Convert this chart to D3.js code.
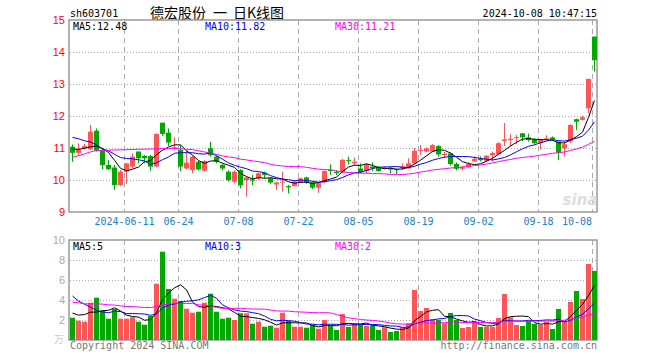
<!DOCTYPE html>
<html>
<head>
<meta charset="utf-8">
<script src="https://cdn.jsdelivr.net/npm/d3@7"></script>
<style>
  body { margin: 0; background: #fff; }
  text { font-family: "DejaVu Sans Mono", monospace; font-size: 10px; }
</style>
</head>
<body>
<svg width="660" height="360"></svg>
<script>
const dates = [
  "2024-05-28", "2024-05-29", "2024-05-30", "2024-05-31",
  "2024-06-03", "2024-06-04", "2024-06-05", "2024-06-06", "2024-06-07",
  "2024-06-11", "2024-06-12", "2024-06-13", "2024-06-14",
  "2024-06-17", "2024-06-18", "2024-06-19", "2024-06-20", "2024-06-21",
  "2024-06-24", "2024-06-25", "2024-06-26", "2024-06-27", "2024-06-28",
  "2024-07-01", "2024-07-02", "2024-07-03", "2024-07-04", "2024-07-05",
  "2024-07-08", "2024-07-09", "2024-07-10", "2024-07-11", "2024-07-12",
  "2024-07-15", "2024-07-16", "2024-07-17", "2024-07-18", "2024-07-19",
  "2024-07-22", "2024-07-23", "2024-07-24", "2024-07-25", "2024-07-26",
  "2024-07-29", "2024-07-30", "2024-07-31", "2024-08-01", "2024-08-02",
  "2024-08-05", "2024-08-06", "2024-08-07", "2024-08-08", "2024-08-09",
  "2024-08-12", "2024-08-13", "2024-08-14", "2024-08-15", "2024-08-16",
  "2024-08-19", "2024-08-20", "2024-08-21", "2024-08-22", "2024-08-23",
  "2024-08-26", "2024-08-27", "2024-08-28", "2024-08-29", "2024-08-30",
  "2024-09-02", "2024-09-03", "2024-09-04", "2024-09-05", "2024-09-06",
  "2024-09-09", "2024-09-10", "2024-09-11", "2024-09-12", "2024-09-13",
  "2024-09-18", "2024-09-19", "2024-09-20",
  "2024-09-23", "2024-09-24", "2024-09-25", "2024-09-26", "2024-09-27",
  "2024-09-30", "2024-10-08"
];

const open = [11.04, 10.85, 10.99, 10.96, 11.54, 10.92, 10.47, 10.39, 9.84, 10.26,
  10.42, 10.89, 10.75, 10.75, 10.42, 11.79, 11.48, 10.98, 10.94, 10.36,
  10.31, 10.57, 10.29, 10.99, 10.73, 10.47, 10.26, 9.95, 10.31, 10.0,
  10.02, 10.05, 10.23, 10.05, 9.86, 9.92, 9.81, 9.81, 9.92, 10.08,
  9.93, 9.76, 9.95, 10.31, 10.25, 10.24, 10.62, 10.52, 10.36, 10.28,
  10.42, 10.41, 10.36, 10.37, 10.34, 10.37, 10.36, 10.52, 10.93, 10.89,
  10.89, 11.06, 10.78, 10.83, 10.5, 10.35, 10.4, 10.58, 10.66, 10.6,
  10.77, 10.8, 11.22, 11.25, 11.31, 11.46, 11.33, 11.28, 11.15, 11.26,
  11.33, 11.2, 10.99, 11.2, 11.9, 11.88, 12.24, 14.48];

const close = [10.85, 10.96, 11.06, 11.51, 10.92, 10.47, 10.34, 9.84, 10.26, 10.52,
  10.73, 10.68, 10.68, 10.42, 11.44, 11.44, 11.17, 11.02, 10.42, 10.54,
  10.73, 10.33, 10.59, 10.78, 10.57, 10.36, 10.0, 10.26, 9.84, 10.08,
  9.98, 10.21, 10.16, 9.92, 9.92, 9.95, 9.77, 9.95, 10.05, 9.93,
  9.76, 9.9, 10.28, 10.28, 10.23, 10.63, 10.6, 10.57, 10.24, 10.49,
  10.37, 10.28, 10.39, 10.33, 10.31, 10.42, 10.52, 10.91, 10.94, 10.99,
  11.09, 10.8, 10.82, 10.5, 10.35, 10.4, 10.5, 10.66, 10.62, 10.76,
  10.84, 11.15, 11.27, 11.29, 11.34, 11.33, 11.25, 11.15, 11.25, 11.3,
  11.27, 10.85, 11.12, 11.72, 11.82, 11.96, 13.16, 13.75];

const high = [11.11, 11.15, 11.13, 11.72, 11.61, 10.99, 10.62, 10.47, 10.31, 10.54,
  10.83, 10.89, 10.78, 10.78, 11.46, 11.79, 11.61, 11.33, 11.09, 10.94,
  10.76, 10.6, 10.62, 11.2, 10.76, 10.5, 10.3, 10.3, 10.34, 10.1,
  10.16, 10.24, 10.26, 10.08, 9.95, 10.26, 9.84, 9.98, 10.08, 10.1,
  9.95, 9.92, 10.3, 10.49, 10.31, 10.66, 10.73, 10.7, 10.52, 10.52,
  10.55, 10.43, 10.42, 10.42, 10.36, 10.52, 10.68, 11.0, 11.09, 11.02,
  11.12, 11.09, 10.88, 10.86, 10.55, 10.45, 10.55, 10.74, 10.74, 10.78,
  10.89, 11.18, 11.78, 11.43, 11.41, 11.46, 11.45, 11.3, 11.27, 11.4,
  11.36, 11.2, 11.2, 11.74, 11.92, 12.0, 13.16, 14.48];

const low = [10.57, 10.78, 10.95, 10.94, 10.89, 10.33, 10.31, 9.69, 9.81, 9.88,
  10.36, 10.52, 10.52, 10.29, 10.4, 11.37, 11.06, 10.94, 10.28, 10.33,
  10.21, 10.3, 10.26, 10.73, 10.52, 10.3, 9.95, 9.9, 9.74, 9.48,
  9.84, 10.0, 10.05, 9.88, 9.69, 9.64, 9.58, 9.8, 9.9, 9.88,
  9.72, 9.6, 9.9, 10.16, 10.16, 10.21, 10.49, 10.47, 10.21, 10.21,
  10.28, 10.26, 10.33, 10.21, 10.18, 10.31, 10.36, 10.49, 10.78, 10.87,
  10.89, 10.73, 10.68, 10.45, 10.3, 10.3, 10.38, 10.56, 10.58, 10.56,
  10.58, 10.77, 11.06, 11.06, 11.12, 11.22, 11.2, 11.13, 10.95, 11.24,
  11.22, 10.62, 10.73, 11.15, 11.56, 11.86, 12.08, 13.39];

// volume in 万手
const volume = [2.23, 1.93, 1.83, 3.73, 4.23, 2.93, 2.13, 3.1, 2.13, 2.13,
  2.27, 1.83, 1.53, 2.4, 5.63, 8.83, 5.1, 4.13, 3.9, 3.13,
  2.73, 2.83, 3.73, 4.63, 2.83, 2.13, 2.23, 2.0, 2.67, 2.67,
  1.63, 1.83, 1.33, 1.43, 1.23, 2.73, 1.9, 1.33, 1.33, 1.23,
  1.5, 1.13, 2.0, 1.43, 1.0, 2.6, 1.3, 1.67, 1.5, 1.4,
  1.47, 1.0, 1.27, 0.8, 0.9, 1.27, 1.67, 5.0, 2.9, 3.2,
  2.07, 2.0, 1.67, 2.7, 2.0, 1.2, 1.3, 1.9, 1.3, 1.3,
  1.3, 2.2, 4.6, 2.27, 1.5, 1.4, 1.9, 1.6, 1.5, 1.83,
  1.1, 3.1, 1.83, 3.8, 4.9, 4.1, 7.6, 6.9];

// 29 sessions before the window, only used to start the moving averages
const prevClose = [9.45, 9.5, 9.58, 9.62, 10.31, 10.18, 9.7, 10.1, 10.36, 10.57,
  10.5, 10.54, 10.26, 11.28, 11.28, 11.01, 10.87, 10.9, 11.0, 11.04,
  11.36, 11.72, 11.85, 11.82, 11.75, 10.96, 10.91, 11.26, 10.82];
const prevVolume = [3.5, 4.8, 3.9, 4.4, 3.6, 4.2, 3.8, 4.5, 4.04, 2.6,
  3.1, 2.8, 2.4, 3.3, 2.9, 3.5, 2.7, 3.2, 2.83, 3.0,
  7.0, 5.0, 6.6, 7.6, 4.4, 2.9, 1.6, 2.5, 4.2];

const tickDates = ["2024-06-11", "2024-06-24", "2024-07-08", "2024-07-22", "2024-08-05",
  "2024-08-19", "2024-09-02", "2024-09-18", "2024-10-08"];
const tickLabels = ["2024-06-11", "06-24", "07-08", "07-22", "08-05", "08-19", "09-02", "09-18", "10-08"];
const priceTicks = [9, 10, 11, 12, 13, 14, 15];
const volumeTicks = [2, 4, 6, 8, 10];

const RED = "#ff5555";
const GREEN = "#00a800";
const GRID = "#aaa";
const maColors = { 5: "#000", 10: "#0000ff", 30: "#ff00ff" };

const svg = d3.select("svg");

const left = 70, right = 598;
const x = d3.scaleBand().domain(dates).range([left, right]);
const y = d3.scaleLinear().domain([9, 15]).range([212, 20]);
const yv = d3.scaleLinear().domain([0, 10]).range([340, 240]);

const movingAvg = (prev, vals, n) => {
  const all = prev.concat(vals);
  return vals.map((_, i) => d3.mean(all.slice(i + prev.length - n + 1, i + prev.length + 1)));
};

const up = i => close[i] >= open[i];
const idx = d3.range(dates.length);

// header
svg.append("text").attr("x", 70).attr("y", 17).text("sh603701");
const title = svg.append("g")
  .style("font-family", "'Noto Sans CJK SC', sans-serif").style("font-size", "14px");
title.append("text").attr("x", 150).attr("y", 18).style("font-size", "14px").style("font-family", "'Noto Sans CJK SC', sans-serif").text("德宏股份");
title.append("text").attr("x", 213).attr("y", 18).style("font-size", "14px").style("font-family", "'Noto Sans CJK SC', sans-serif").text("一");
title.append("text").attr("x", 233).attr("y", 18).style("font-size", "14px").style("font-family", "'Noto Sans CJK SC', sans-serif").text("日K线图");
svg.append("text").attr("x", 597).attr("y", 17).attr("text-anchor", "end").text("2024-10-08 10:47:15");

function panel(yScale, ticks, labelColor, top, bottom) {
  const g = svg.append("g");
  // horizontal dotted grid
  g.selectAll("line.h").data(ticks.filter(t => yScale(t) > top + 1 && yScale(t) < bottom - 1))
    .join("line")
    .attr("x1", left).attr("x2", right)
    .attr("y1", d => Math.round(yScale(d)) + 0.5).attr("y2", d => Math.round(yScale(d)) + 0.5)
    .attr("stroke", GRID).attr("stroke-dasharray", "1,2");
  // vertical dashed grid
  g.selectAll("line.v").data(tickDates).join("line")
    .attr("x1", d => x(d) + 0.5).attr("x2", d => x(d) + 0.5)
    .attr("y1", top).attr("y2", bottom)
    .attr("stroke", GRID).attr("stroke-dasharray", "5,4");
  // frame
  g.append("rect").attr("x", left - 1).attr("y", top).attr("width", right - left).attr("height", bottom - top)
    .attr("fill", "none").attr("stroke", "#999").attr("stroke-width", 1.5);
  // left labels
  svg.append("g").selectAll("text").data(ticks).join("text")
    .attr("x", 65).attr("y", d => yScale(d)).attr("dy", "0.35em")
    .attr("text-anchor", "end").attr("fill", labelColor)
    .style("font-family", "'Liberation Sans', sans-serif").style("font-size", "11px")
    .text(d => d);
}

panel(y, priceTicks, "#f00", 20, 212);
panel(yv, volumeTicks, "#aaa", 240, 340);

// candles
const candles = svg.append("g").selectAll("g").data(idx).join("g");
candles.append("line")
  .attr("x1", i => x(dates[i]) + 2.5).attr("x2", i => x(dates[i]) + 2.5)
  .attr("y1", i => y(high[i])).attr("y2", i => y(low[i]))
  .attr("stroke", i => up(i) ? RED : GREEN);
candles.append("rect")
  .attr("x", i => x(dates[i])).attr("width", x.bandwidth() - 1)
  .attr("y", i => y(Math.max(open[i], close[i])))
  .attr("height", i => Math.max(1, Math.abs(y(open[i]) - y(close[i]))))
  .attr("fill", i => up(i) ? RED : GREEN);

// volume bars
svg.append("g").selectAll("rect").data(idx).join("rect")
  .attr("x", i => x(dates[i])).attr("width", x.bandwidth() - 1)
  .attr("y", i => yv(volume[i])).attr("height", i => yv(0) - yv(volume[i]))
  .attr("fill", i => up(i) ? RED : GREEN);

// moving averages
const cx = i => x(dates[i]) + 2.5;
[5, 10, 30].forEach(n => {
  const ma = movingAvg(prevClose, close, n);
  svg.append("path").datum(ma)
    .attr("d", d3.line().x((d, i) => cx(i)).y(d => y(d)))
    .attr("fill", "none").attr("stroke", maColors[n]).attr("stroke-width", 1);
  const mv = movingAvg(prevVolume, volume, n);
  svg.append("path").datum(mv)
    .attr("d", d3.line().x((d, i) => cx(i)).y(d => yv(d)))
    .attr("fill", "none").attr("stroke", maColors[n]).attr("stroke-width", 1);
});

// legends
const legendX = { 5: 73, 10: 205, 30: 335 };
[5, 10, 30].forEach(n => {
  const last = movingAvg(prevClose, close, n).at(-1);
  svg.append("text").attr("x", legendX[n]).attr("y", 30).attr("fill", maColors[n])
    .text(`MA${n}:${last.toFixed(2)}`);
  const lastV = movingAvg(prevVolume, volume, n).at(-1);
  svg.append("text").attr("x", legendX[n]).attr("y", 250).attr("fill", maColors[n])
    .text(`MA${n}:${Math.floor(lastV)}`);
});

// date labels
svg.append("g").selectAll("text").data(tickDates).join("text")
  .attr("x", (d, i) => i === tickDates.length - 1 ? x(d) : x(d) + 0.5)
  .attr("y", 225)
  .attr("text-anchor", (d, i) => i === tickDates.length - 1 ? "end" : "middle")
  .attr("fill", "#1a80d0")
  .text((d, i) => tickLabels[i]);

// watermark
svg.append("text").attr("x", 580).attr("y", 205).attr("text-anchor", "middle")
  .attr("fill", "#ddd").style("font-family", "'DejaVu Sans', sans-serif")
  .style("font-size", "15px").style("font-weight", "bold").style("font-style", "italic")
  .text("sina");

// footer
svg.append("text").attr("x", 64).attr("y", 343).attr("text-anchor", "end").attr("fill", "#ccc")
  .style("font-family", "'Noto Sans CJK SC', sans-serif").style("font-size", "10px").text("万");
svg.append("text").attr("x", 70).attr("y", 349).attr("fill", "#777").text("Copyright 2024 SINA.COM");
svg.append("text").attr("x", 597).attr("y", 349).attr("text-anchor", "end").attr("fill", "#777")
  .text("http://finance.sina.com.cn");
</script>
</body>
</html>
